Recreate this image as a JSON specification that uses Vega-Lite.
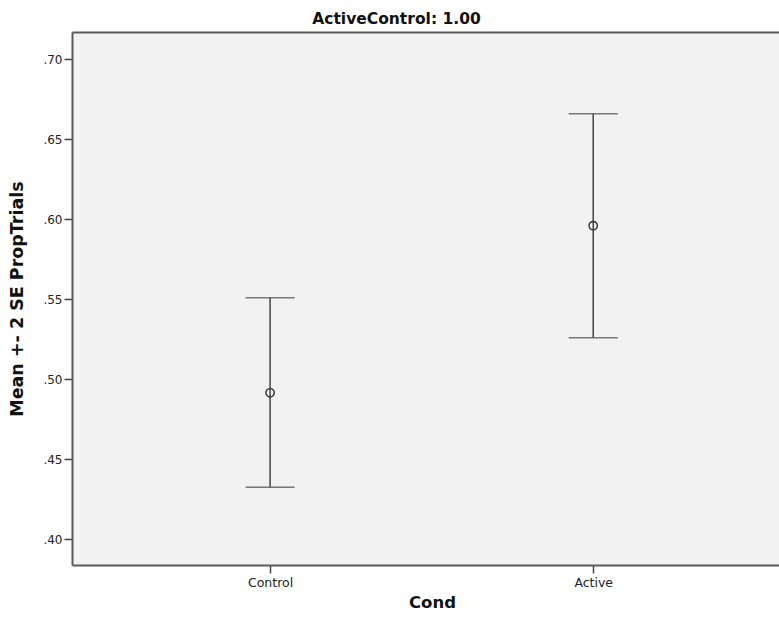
{
  "$schema": "https://vega.github.io/schema/vega-lite/v6.json",
  "autosize": {"type": "none"},
  "padding": {"left": 72, "top": 32, "right": 0, "bottom": 59},
  "width": 707,
  "height": 533,
  "background": "white",
  "title": {
    "text": "ActiveControl: 1.00",
    "font": "DejaVu Sans",
    "fontSize": 15.5,
    "fontWeight": "bold",
    "color": "#111111",
    "anchor": "middle",
    "dx": -29,
    "offset": 5
  },
  "config": {
    "view": {"fill": "#f2f2f2", "stroke": null},
    "font": "DejaVu Sans"
  },
  "data": {
    "values": [
      {"Cond": "Control", "mean": 0.4916, "lo": 0.4325, "hi": 0.551},
      {"Cond": "Active", "mean": 0.596, "lo": 0.526, "hi": 0.666}
    ]
  },
  "resolve": {"axis": {"x": "independent"}},
  "layer": [
    {
      "mark": {"type": "rule", "color": "#444444", "strokeWidth": 1.5},
      "encoding": {
        "x": {
          "field": "Cond",
          "type": "nominal",
          "sort": ["Control", "Active"],
          "scale": {"type": "point", "padding": 0.594, "align": 0.516},
          "axis": {
            "orient": "bottom",
            "title": "Cond",
            "titleFont": "DejaVu Sans",
            "titleFontSize": 16.5,
            "titleFontWeight": "bold",
            "titleColor": "#111111",
            "titlePadding": 6,
            "titleX": 360,
            "labelAngle": 0,
            "labelFont": "DejaVu Sans",
            "labelFontSize": 12.5,
            "labelColor": "#222222",
            "labelPadding": 3,
            "tickSize": 8,
            "tickColor": "#444444",
            "tickWidth": 1.5,
            "domainColor": "#5a5a5a",
            "domainWidth": 2
          }
        },
        "y": {
          "field": "lo",
          "type": "quantitative",
          "scale": {"domain": [0.384, 0.717], "nice": false, "zero": false},
          "axis": {
            "title": "Mean +- 2 SE PropTrials",
            "titleFont": "DejaVu Sans",
            "titleFontSize": 17.5,
            "titleFontWeight": "bold",
            "titleColor": "#111111",
            "titlePadding": 16,
            "values": [0.40, 0.45, 0.50, 0.55, 0.60, 0.65, 0.70],
            "labelExpr": "substring(format(datum.value, '.2f'), 1)",
            "labelFont": "DejaVu Sans",
            "labelFontSize": 12,
            "labelColor": "#222222",
            "labelPadding": 2,
            "tickSize": 8,
            "tickColor": "#444444",
            "tickWidth": 1.5,
            "domainColor": "#5a5a5a",
            "domainWidth": 2,
            "grid": false
          }
        },
        "y2": {"field": "hi"}
      }
    },
    {
      "mark": {"type": "tick", "color": "#444444", "thickness": 1.5, "size": 49},
      "encoding": {
        "x": {
          "field": "Cond",
          "type": "nominal",
          "sort": ["Control", "Active"],
          "axis": {
            "orient": "top",
            "title": null,
            "labels": false,
            "ticks": false,
            "domainColor": "#5a5a5a",
            "domainWidth": 2
          }
        },
        "y": {"field": "lo", "type": "quantitative"}
      }
    },
    {
      "mark": {"type": "tick", "color": "#444444", "thickness": 1.5, "size": 49},
      "encoding": {
        "x": {"field": "Cond", "type": "nominal", "sort": ["Control", "Active"], "axis": null},
        "y": {"field": "hi", "type": "quantitative"}
      }
    },
    {
      "mark": {"type": "point", "shape": "circle", "filled": false, "size": 70, "stroke": "#333333", "strokeWidth": 1.4, "opacity": 1},
      "encoding": {
        "x": {"field": "Cond", "type": "nominal", "sort": ["Control", "Active"], "axis": null},
        "y": {"field": "mean", "type": "quantitative"}
      }
    }
  ]
}
